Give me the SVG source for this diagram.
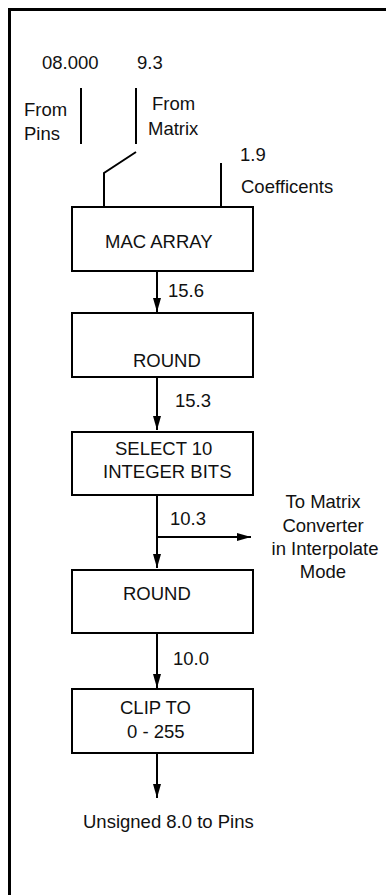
<svg xmlns="http://www.w3.org/2000/svg" width="386" height="895" viewBox="0 0 386 895">
<defs>
<marker id="ah" markerWidth="14" markerHeight="8" refX="14" refY="4" orient="auto" markerUnits="userSpaceOnUse">
<path d="M0,0 L14,4 L0,8 Z" fill="#000"/>
</marker>
<style>
text{font-family:"Liberation Sans",Arial,sans-serif;font-size:18.5px;fill:#111}
.box{fill:#fff;stroke:#000;stroke-width:2}
.ln{fill:none;stroke:#000;stroke-width:2}
.arr{fill:none;stroke:#000;stroke-width:2;marker-end:url(#ah)}
</style>
</defs>
<rect width="386" height="895" fill="#fff"/>
<path d="M9.5,895 V9.5 H386" fill="none" stroke="#000" stroke-width="3"/>
<g id="labels">
<text x="42" y="69">08.000</text>
<text x="137" y="69">9.3</text>
<text x="24" y="116">From</text>
<text x="24" y="140">Pins</text>
<text x="152" y="110">From</text>
<text x="148" y="135">Matrix</text>
<text x="240" y="161">1.9</text>
<text x="241" y="193">Coefficents</text>
<text x="168" y="297">15.6</text>
<text x="175" y="407">15.3</text>
<text x="170" y="525">10.3</text>
<text x="323" y="508" text-anchor="middle">To Matrix</text>
<text x="323" y="532" text-anchor="middle">Converter</text>
<text x="325" y="555" text-anchor="middle">in Interpolate</text>
<text x="323" y="578" text-anchor="middle">Mode</text>
<text x="173" y="665">10.0</text>
<text x="83" y="828">Unsigned 8.0 to Pins</text>
</g>
<g id="connectors">
<path class="ln" d="M81,88 V144"/>
<path class="ln" d="M136,88 V144"/>
<path class="ln" d="M136,152 L104,173 V207"/>
<path class="ln" d="M221,163 V207"/>
<path class="arr" d="M157,271 V312"/>
<path class="arr" d="M157,377 V430"/>
<path class="arr" d="M157,495 V568"/>
<path class="arr" d="M157,537 H251"/>
<path class="arr" d="M157,633 V688"/>
<path class="arr" d="M157,753 V798"/>
</g>
<g id="mac">
<rect class="box" x="72" y="207" width="181" height="64"/>
<text x="105" y="248">MAC ARRAY</text>
</g>
<g id="round1">
<rect class="box" x="72" y="313" width="181" height="64"/>
<text x="133" y="367">ROUND</text>
</g>
<g id="select">
<rect class="box" x="72" y="432" width="181" height="63"/>
<text x="115" y="455">SELECT 10</text>
<text x="103" y="478">INTEGER BITS</text>
</g>
<g id="round2">
<rect class="box" x="72" y="570" width="181" height="63"/>
<text x="123" y="600">ROUND</text>
</g>
<g id="clip">
<rect class="box" x="72" y="689" width="181" height="64"/>
<text x="120" y="714">CLIP TO</text>
<text x="127" y="738">0 - 255</text>
</g>
</svg>
